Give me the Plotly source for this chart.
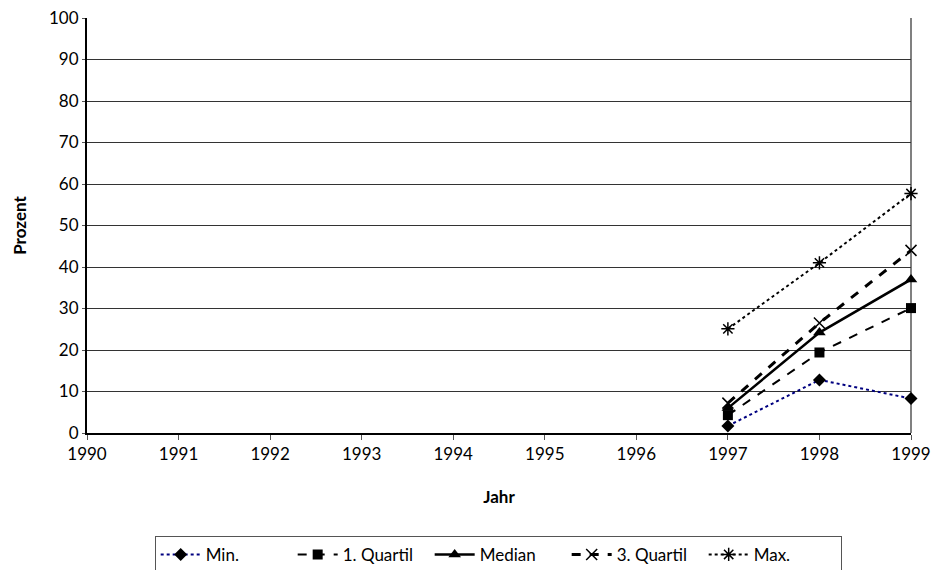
import plotly.graph_objects as go

years = [1997, 1998, 1999]
min_vals = [1.7, 12.8, 8.3]
q1_vals = [4.3, 19.4, 30.1]
median_vals = [6.0, 24.2, 37.0]
q3_vals = [7.2, 26.5, 44.0]
max_vals = [25.1, 41.0, 57.7]

x_ticks = list(range(1990, 2000))
y_ticks = list(range(0, 101, 10))

FONT = "Lato, Arial, sans-serif"

fig = go.Figure()
fig.add_trace(go.Scatter(x=years, y=min_vals, name="Min.", mode="lines+markers",
                         line=dict(color="#000080", width=2, dash="dot"),
                         marker=dict(symbol="diamond", size=10, color="black"),
                         cliponaxis=False))
fig.add_trace(go.Scatter(x=years, y=q1_vals, name="1. Quartil", mode="lines+markers",
                         line=dict(color="black", width=2, dash="dash"),
                         marker=dict(symbol="square", size=10, color="black"),
                         cliponaxis=False))
fig.add_trace(go.Scatter(x=years, y=median_vals, name="Median", mode="lines+markers",
                         line=dict(color="black", width=2.5),
                         marker=dict(symbol="triangle-up", size=11, color="black"),
                         cliponaxis=False))
fig.add_trace(go.Scatter(x=years, y=q3_vals, name="3. Quartil", mode="lines+markers",
                         line=dict(color="black", width=3, dash="dash"),
                         marker=dict(symbol="x-thin-open", size=11, color="black",
                                     line=dict(width=1.5, color="black")),
                         cliponaxis=False))
fig.add_trace(go.Scatter(x=years, y=max_vals, name="Max.", mode="lines+markers",
                         line=dict(color="black", width=2, dash="dot"),
                         marker=dict(symbol="asterisk-open", size=11, color="black",
                                     line=dict(width=1.5, color="black")),
                         cliponaxis=False))

fig.update_layout(
    width=935, height=570,
    margin=dict(l=87, r=24, t=18, b=137, autoexpand=False),
    paper_bgcolor="white", plot_bgcolor="white",
    font=dict(family=FONT, size=17, color="black"),
    showlegend=True,
    legend=dict(orientation="h", x=0.499, xanchor="center", y=-0.248, yanchor="top",
                bordercolor="#555555", borderwidth=1, font=dict(size=17),
                itemwidth=40, tracegroupgap=0, entrywidth=82, entrywidthmode="pixels"),
)
fig.update_xaxes(range=[1990, 1999], tickvals=x_ticks, ticktext=[str(v) for v in x_ticks],
                 showgrid=False, showline=True, linecolor="black", linewidth=2,
                 ticks="outside", ticklen=5, tickcolor="#555555", automargin=False,
                 title=dict(text="<b>Jahr</b>", standoff=28, font=dict(size=17)),
                 zeroline=False, mirror=False)
fig.update_yaxes(range=[0, 100], tickvals=y_ticks, automargin=False,
                 showgrid=True, gridcolor="#333333", gridwidth=1,
                 showline=True, linecolor="black", linewidth=2,
                 ticks="outside", ticklen=3, tickcolor="#555555",
                 title=dict(text="<b>Prozent</b>", standoff=18, font=dict(size=17)),
                 zeroline=False)
# right border of plot area
fig.add_shape(type="line", xref="paper", yref="paper", x0=1, x1=1, y0=0, y1=1,
              line=dict(color="#808080", width=2), layer="below")

fig.write_html("out.html", config={"displayModeBar": False},
               post_script="document.body.style.margin='0px';document.body.style.overflow='hidden';")
